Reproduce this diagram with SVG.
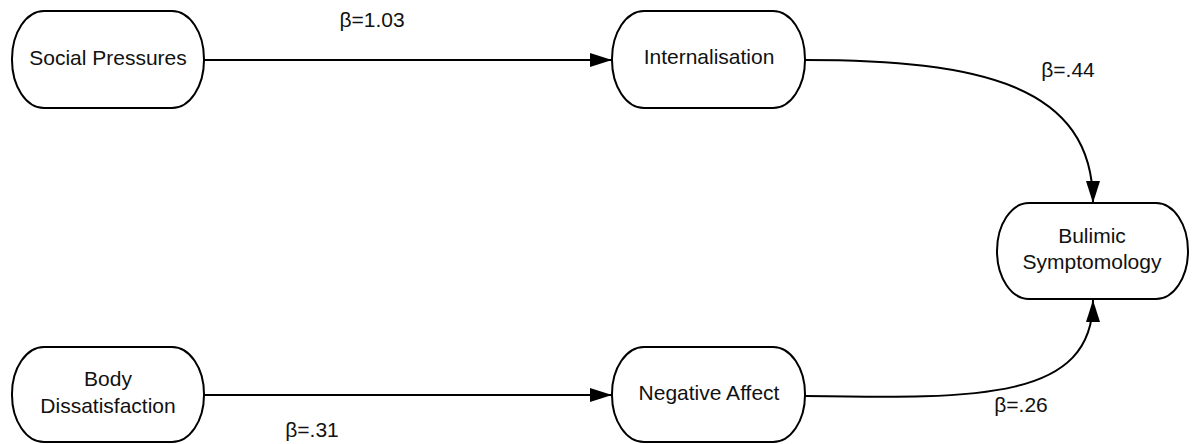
<svg xmlns="http://www.w3.org/2000/svg" width="1194" height="444" viewBox="0 0 1194 444">
<style>
.node{fill:#fff;stroke:#000;stroke-width:2}
.t{font-family:"Liberation Sans",Arial,sans-serif;font-size:21px;fill:#111;text-anchor:middle}
.c{fill:none;stroke:#000;stroke-width:2}
</style>
<defs>
<marker id="ah" markerWidth="22" markerHeight="14" refX="22" refY="7" orient="auto" markerUnits="userSpaceOnUse">
<path d="M0,0 L22,7 L0,14 Z" fill="#000"/>
</marker>
</defs>
<rect width="1194" height="444" fill="#fff"/>
<g id="connectors">
<path class="c" d="M204,60 L612,60" marker-end="url(#ah)"/>
<path class="c" d="M204,395 L612,395" marker-end="url(#ah)"/>
<path class="c" d="M805,60 C980,60 1093,85 1093,203" marker-end="url(#ah)"/>
<path class="c" d="M805,396 C980,399 1093,400 1093,300" marker-end="url(#ah)"/>
<text class="t" x="372" y="27">β=1.03</text>
<text class="t" x="1068" y="77">β=.44</text>
<text class="t" x="1021" y="412">β=.26</text>
<text class="t" x="312" y="437">β=.31</text>
</g>
<g id="social-pressures">
<rect class="node" x="12" y="11" width="192" height="97" rx="32" ry="48"/>
<text class="t" x="108" y="65">Social Pressures</text>
</g>
<g id="internalisation">
<rect class="node" x="612" y="11" width="193" height="97" rx="32" ry="48"/>
<text class="t" x="709" y="64">Internalisation</text>
</g>
<g id="bulimic">
<rect class="node" x="997" y="203" width="191" height="96" rx="32" ry="48"/>
<text class="t" x="1092" y="243">Bulimic</text>
<text class="t" x="1092" y="269">Symptomology</text>
</g>
<g id="body-dissatisfaction">
<rect class="node" x="12" y="347" width="192" height="95" rx="32" ry="47"/>
<text class="t" x="108" y="386">Body</text>
<text class="t" x="108" y="413">Dissatisfaction</text>
</g>
<g id="negative-affect">
<rect class="node" x="612" y="347" width="193" height="95" rx="32" ry="47"/>
<text class="t" x="709" y="400">Negative Affect</text>
</g>
</svg>
